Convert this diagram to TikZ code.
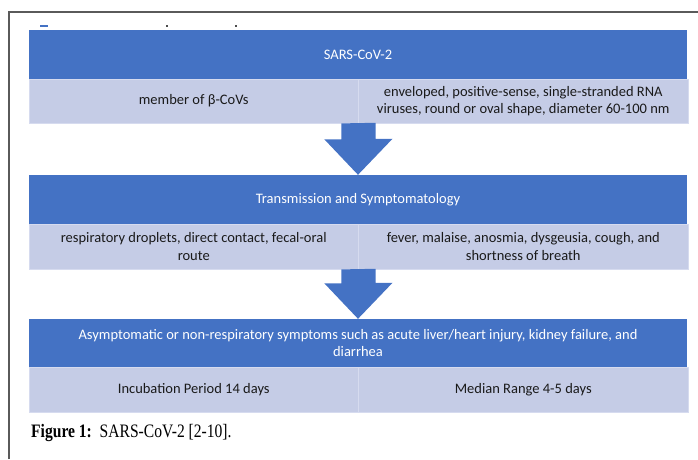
\documentclass[tikz,border=0pt]{standalone}
\usepackage{fontspec}
\setmainfont{Carlito}
\newfontfamily\capfont[FakeStretch=0.82]{Liberation Serif}

\definecolor{hdrblue}{HTML}{4472C4}
\definecolor{cellblue}{HTML}{C5CCE6}
\definecolor{celledge}{HTML}{D6DBEF}
\definecolor{celltext}{HTML}{1A1A1A}
\definecolor{framegray}{HTML}{5A5A5A}

\tikzset{
  boxfont/.style={font=\fontsize{14.5}{17.5}\selectfont},
  hdr/.style={boxfont, fill=hdrblue, text=white, minimum width=658pt, minimum height=49pt, inner sep=0pt, align=center},
  cell/.style={boxfont, fill=cellblue, draw=celledge, line width=0.8pt, text=celltext, minimum width=329.5pt, minimum height=44pt, inner sep=0pt, align=center},
  blockarrow/.style={fill=hdrblue}
}

\begin{document}
\begin{tikzpicture}[x=1pt,y=-1pt]
\useasboundingbox (0,0) rectangle (698,459);
\draw[framegray, line width=1.2pt] (9,459) -- (9,12) -- (698,12) ; % frame
\fill[hdrblue] (40,25) rectangle (48,27) ; % cut text
\fill[black!70] (166,25) rectangle (168,27) ; % cut text
\fill[black!70] (235,25) rectangle (237,27) ; % cut text
\node[hdr] (hdrA) at (358,54.5) {SARS-CoV-2}; % Header.0
\node[cell] (rowAl) at (193.75,101) {member of β-CoVs}; % Row.0
\node[cell] (rowAr) at (523.25,101) {enveloped, positive-sense, single-stranded RNA\\viruses, round or oval shape, diameter 60-100 nm}; % Row.0
\node[hdr] (hdrB) at (358,199.5) {Transmission and Symptomatology}; % Header.1
\node[cell, minimum height=45pt] (rowBl) at (193.75,246.5) {respiratory droplets, direct contact, fecal-oral\\route}; % Row.1
\node[cell, minimum height=45pt] (rowBr) at (523.25,246.5) {fever, malaise, anosmia, dysgeusia, cough, and\\shortness of breath}; % Row.1
\node[hdr, minimum height=48pt] (hdrC) at (358,343) {Asymptomatic or non-respiratory symptoms such as acute liver/heart injury, kidney failure, and\\diarrhea}; % Header.2
\node[cell, minimum height=45pt] (rowCl) at (193.75,389.5) {Incubation Period 14 days}; % Row.2
\node[cell, minimum height=45pt] (rowCr) at (523.25,389.5) {Median Range 4-5 days}; % Row.2
\fill[blockarrow] ([xshift=-17.5pt]rowAl.south east) -- ++(0,16) -- ++(-17,0) -- (hdrB.north) -- ++(34.5,-36) -- ++(-17,0) -- ++(0,-16) -- cycle ; % Arrow.0
\fill[blockarrow] ([xshift=-17.5pt]rowBl.south east) -- ++(0,14) -- ++(-17,0) -- (hdrC.north) -- ++(34.5,-36) -- ++(-17,0) -- ++(0,-14) -- cycle ; % Arrow.1
\node[anchor=west, inner sep=0pt, font=\capfont\fontsize{19}{22}\selectfont] (cap) at (31,433) {\textbf{Figure 1:}\ \ SARS-CoV-2 [2-10].}; % Caption
\end{tikzpicture}
\end{document}
